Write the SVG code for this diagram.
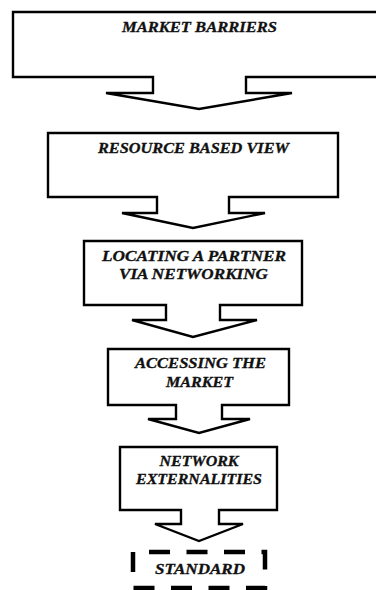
<svg xmlns="http://www.w3.org/2000/svg" width="376" height="590" viewBox="0 0 376 590">
<style>
.shape{fill:#fff;stroke:#000;stroke-width:2.4;stroke-linejoin:miter}
.lbl{font-family:"Liberation Serif","Times New Roman",serif;font-weight:bold;font-style:italic;font-size:14.5px;fill:#111;stroke:#111;stroke-width:0.3;text-anchor:middle}
.dash{fill:#fff;stroke:#000;stroke-width:4.5;stroke-dasharray:21 16.5;stroke-dashoffset:21.5}
</style>
<rect width="376" height="590" fill="#fff"/>
<g id="node-market-barriers">
<path class="shape" d="M13,12 H380 V77 H246 V93 H292 L199,109 L106,93 H153 V77 H13 Z"/>
<text class="lbl" x="199.5" y="32" textLength="155" lengthAdjust="spacingAndGlyphs">MARKET BARRIERS</text>
</g>
<g id="node-resource-based-view">
<path class="shape" d="M48,133 H338 V197 H229 V213 H265 L193,228 L122,213 H157 V197 H48 Z"/>
<text class="lbl" x="193.5" y="152.5" textLength="191" lengthAdjust="spacingAndGlyphs">RESOURCE BASED VIEW</text>
</g>
<g id="node-locating-partner">
<path class="shape" d="M84,241 H302 V305 H220 V320 H257 L193,337 L132,320 H166 V305 H84 Z"/>
<text class="lbl" x="194" y="261" textLength="184" lengthAdjust="spacingAndGlyphs">LOCATING A PARTNER</text>
<text class="lbl" x="193.5" y="279" textLength="149" lengthAdjust="spacingAndGlyphs">VIA NETWORKING</text>
</g>
<g id="node-accessing-market">
<path class="shape" d="M108,349 H289 V405 H222 V419 H250 L199,433 L148,419 H176 V405 H108 Z"/>
<text class="lbl" x="200.5" y="368" textLength="131" lengthAdjust="spacingAndGlyphs">ACCESSING THE</text>
<text class="lbl" x="199.5" y="386.5" textLength="67" lengthAdjust="spacingAndGlyphs">MARKET</text>
</g>
<g id="node-network-externalities">
<path class="shape" d="M120,447 H277 V510 H219 V524 H243 L199,541 L155,524 H181 V510 H120 Z"/>
<text class="lbl" x="199" y="466" textLength="79" lengthAdjust="spacingAndGlyphs">NETWORK</text>
<text class="lbl" x="199" y="484" textLength="126" lengthAdjust="spacingAndGlyphs">EXTERNALITIES</text>
</g>
<g id="node-standard">
<rect class="dash" x="133" y="552" width="132" height="36"/>
<text class="lbl" x="200" y="574" textLength="90" lengthAdjust="spacingAndGlyphs">STANDARD</text>
</g>
<g id="connectors"></g>
</svg>
